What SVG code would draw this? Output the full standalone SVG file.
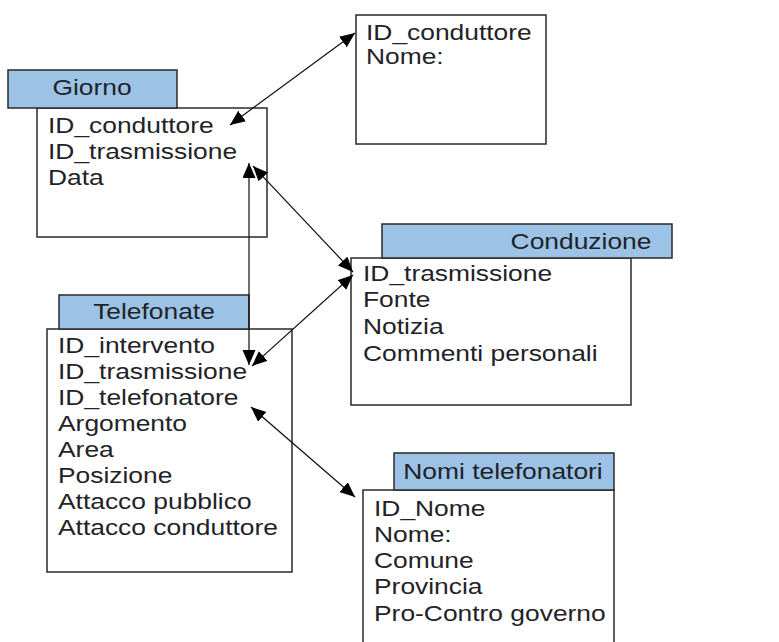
<svg xmlns="http://www.w3.org/2000/svg" width="779" height="642" viewBox="0 0 779 642">
<defs>
<style>
.hdr{fill:#9cc3e5;stroke:#2a2a2a;stroke-width:1.5}
.body{fill:#ffffff;stroke:#2a2a2a;stroke-width:1.5}
text{font-family:"Liberation Sans",Arial,sans-serif;font-size:22px;fill:#1f2328}
.c{text-anchor:middle}
.conn line{stroke:#111;stroke-width:1.2;marker-start:url(#ah);marker-end:url(#ah)}
</style>
<marker id="ah" markerUnits="userSpaceOnUse" markerWidth="16" markerHeight="14" refX="15" refY="6.5" orient="auto-start-reverse" viewBox="0 0 16 14">
<path d="M0,0 L15,6.5 L0,13 z" fill="#000"/>
</marker>
</defs>
<rect width="779" height="642" fill="#ffffff"/>

<g id="giorno">
<rect class="body" x="37" y="108" width="230" height="129"/>
<rect class="hdr" x="8" y="70" width="169" height="38"/>
<g transform="translate(92,95) scale(1.2,1)"><text class="c" x="0" y="0">Giorno</text></g>
<g transform="translate(48,0) scale(1.2,1)">
<text x="0" y="133">ID_conduttore</text>
<text x="0" y="159">ID_trasmissione</text>
<text x="0" y="185">Data</text>
</g>
</g>

<g id="conduttore">
<rect class="body" x="356" y="15" width="190" height="129"/>
<g transform="translate(366,0) scale(1.2,1)">
<text x="0" y="40">ID_conduttore</text>
<text x="0" y="64">Nome:</text>
</g>
</g>

<g id="conduzione">
<rect class="body" x="351" y="258" width="280" height="147"/>
<rect class="hdr" x="382" y="224" width="290" height="34"/>
<g transform="translate(581,249) scale(1.2,1)"><text class="c" x="0" y="0">Conduzione</text></g>
<g transform="translate(363,0) scale(1.2,1)">
<text x="0" y="281">ID_trasmissione</text>
<text x="0" y="307">Fonte</text>
<text x="0" y="334">Notizia</text>
<text x="0" y="361">Commenti personali</text>
</g>
</g>

<g id="telefonate">
<rect class="body" x="47" y="329" width="245" height="243"/>
<rect class="hdr" x="59" y="295" width="190" height="34"/>
<g transform="translate(154,319) scale(1.2,1)"><text class="c" x="0" y="0">Telefonate</text></g>
<g transform="translate(58,0) scale(1.2,1)">
<text x="0" y="353">ID_intervento</text>
<text x="0" y="379">ID_trasmissione</text>
<text x="0" y="405">ID_telefonatore</text>
<text x="0" y="431">Argomento</text>
<text x="0" y="457">Area</text>
<text x="0" y="483">Posizione</text>
<text x="0" y="509">Attacco pubblico</text>
<text x="0" y="535">Attacco conduttore</text>
</g>
</g>

<g id="nomi-telefonatori">
<rect class="body" x="363" y="490" width="251" height="170"/>
<rect class="hdr" x="394" y="453" width="220" height="37"/>
<g transform="translate(503,479) scale(1.2,1)"><text class="c" x="0" y="0">Nomi telefonatori</text></g>
<g transform="translate(374,0) scale(1.2,1)">
<text x="0" y="516">ID_Nome</text>
<text x="0" y="542">Nome:</text>
<text x="0" y="568">Comune</text>
<text x="0" y="594">Provincia</text>
<text x="0" y="621">Pro-Contro governo</text>
</g>
</g>

<g id="connectors" class="conn">
<line x1="230" y1="125" x2="355" y2="33"/>
<line x1="253" y1="166" x2="353" y2="272"/>
<line x1="249" y1="163" x2="249" y2="365"/>
<line x1="252" y1="366" x2="353" y2="275"/>
<line x1="251" y1="407" x2="355" y2="497"/>
</g>
</svg>
